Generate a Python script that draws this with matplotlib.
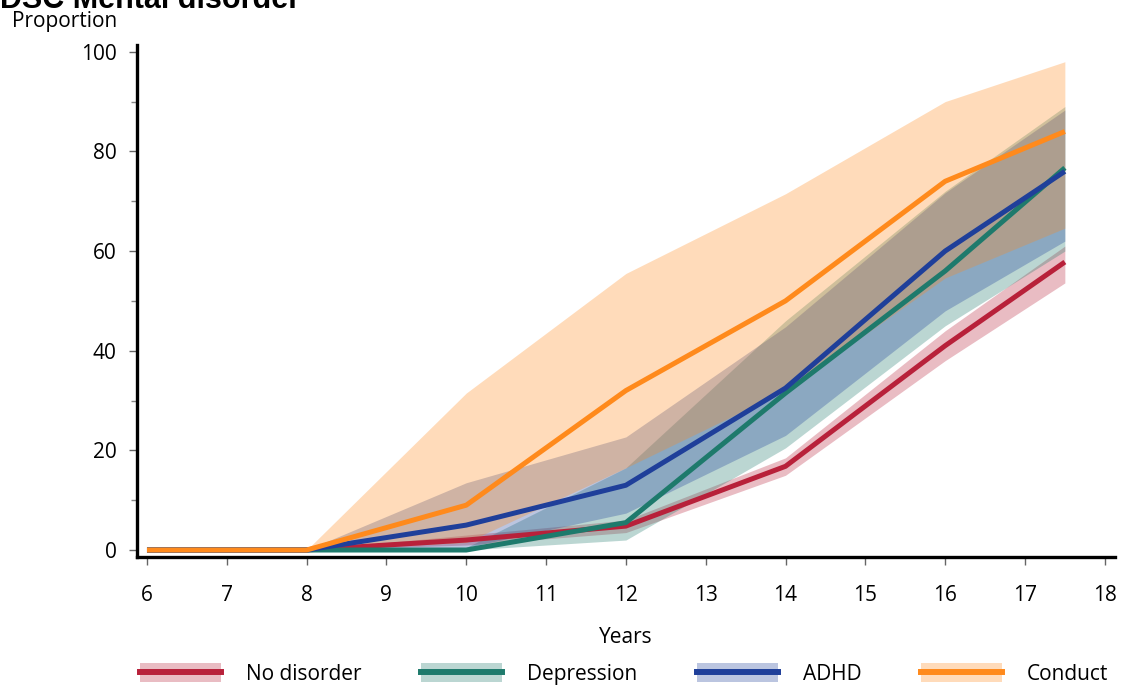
import matplotlib
matplotlib.use("Agg")
import matplotlib.pyplot as plt
from matplotlib.patches import Patch
from matplotlib.lines import Line2D
from matplotlib.ticker import MultipleLocator

plt.rcParams['font.family'] = ['Open Sans', 'DejaVu Sans']

# ---- data ----
years = [6, 7, 8, 10, 12, 14, 16, 17.5]
labels = ["No disorder", "Depression", "ADHD", "Conduct"]

nodis_mean = [0, 0, 0, 2, 4.8, 16.8, 41, 57.8]
nodis_lo = [0, 0, 0, 1, 3.5, 15, 38, 53.6]
nodis_hi = [0, 0, 0, 3, 6, 18.5, 44, 61]

dep_mean = [0, 0, 0, 0, 5.5, 31.5, 56, 76.7]
dep_lo = [0, 0, 0, 0, 2, 20.5, 45, 60]
dep_hi = [0, 0, 0, 0.5, 16.5, 46, 72, 89]

adhd_mean = [0, 0, 0, 5, 13, 32.5, 60, 76]
adhd_lo = [0, 0, 0, 0.5, 7.4, 23, 48, 62]
adhd_hi = [0, 0, 0, 13.5, 22.7, 44.8, 71.7, 88.3]

cond_mean = [0, 0, 0, 9, 32, 50, 74, 84]
cond_lo = [0, 0, 0, 1.5, 16.5, 32, 54.6, 64.6]
cond_hi = [0, 0, 0, 31.5, 55.5, 71.5, 90, 98]

xticks = list(range(6, 19))
yticks = [0, 20, 40, 60, 80, 100]

colors = ["#B8213A", "#1E7A6C", "#1F3F9A", "#FF8A1C"]
band_alpha = 0.3

series = [
    (nodis_mean, nodis_lo, nodis_hi),
    (dep_mean, dep_lo, dep_hi),
    (adhd_mean, adhd_lo, adhd_hi),
    (cond_mean, cond_lo, cond_hi),
]

fig = plt.figure(figsize=(11.23, 6.89), dpi=100)
ax = fig.add_axes([0.122, 0.1916, 0.871, 0.7434])

for (m, lo, hi), c in zip(series, colors):
    ax.fill_between(years, lo, hi, color=c, alpha=band_alpha, linewidth=0)
for (m, lo, hi), c in zip(series, colors):
    ax.plot(years, m, color=c, linewidth=3.6, solid_capstyle='butt')

ax.set_xlim(5.875, 18.13)
ax.set_ylim(-1.4, 101.4)
ax.set_xticks(xticks)
ax.set_yticks(yticks)
ax.yaxis.set_minor_locator(MultipleLocator(10))
ax.tick_params(axis='both', which='major', direction='out', length=5.5, width=1,
               color='#666666', labelsize=15)
ax.tick_params(axis='x', which='major', pad=15)
ax.tick_params(axis='y', which='major', pad=9)
ax.tick_params(axis='y', which='minor', direction='out', length=4, width=1, color='#888888')
ax.tick_params(axis='x', which='minor', length=0)
for s in ['top', 'right']:
    ax.spines[s].set_visible(False)
for s in ['left', 'bottom']:
    ax.spines[s].set_linewidth(2.4)
    ax.spines[s].set_color('black')

ax.set_xlabel("Years", fontsize=15, labelpad=15)

fig.text(0.011, 1 - 21 / 689, "Proportion", fontsize=15, va='center', ha='left')
fig.text(0.0, 1 - 7.5 / 689, "DSC Mental disorder", fontsize=22, weight='bold',
         va='baseline', ha='left', family=['Liberation Sans', 'DejaVu Sans'])

handles = []
for c in colors:
    p = Patch(facecolor=c, alpha=band_alpha, edgecolor='none')
    l = Line2D([], [], color=c, linewidth=4.3)
    handles.append((p, l))

fig.legend(handles, labels, loc='center', bbox_to_anchor=(624 / 1123, 1 - 674 / 689),
           ncol=4, frameon=False, fontsize=15, handlelength=3.9, handleheight=1.0,
           handletextpad=1.2, columnspacing=2.85, borderpad=0.2)

fig.savefig("out.png", dpi=100)
